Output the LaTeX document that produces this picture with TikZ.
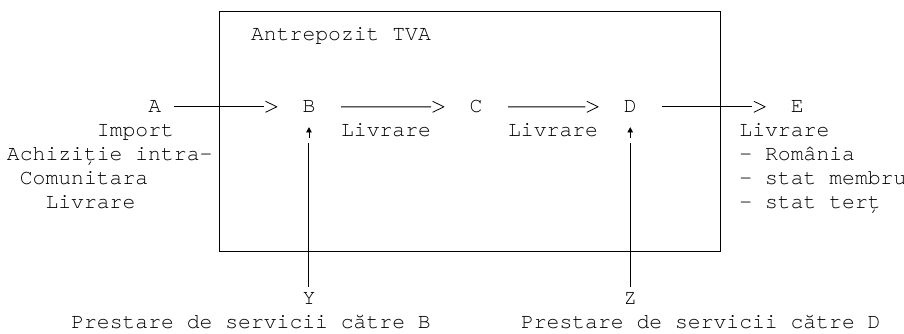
\documentclass[tikz,border=0pt]{standalone}
\usepackage{fontspec}
\setmonofont{TeX Gyre Cursor}
\usetikzlibrary{arrows.meta}

% chevron tip like the ">" glyph: the shaft stops at the back of the chevron
\pgfdeclarearrow{
  name = Chev,
  setup code = {
    \pgfarrowssettipend{0pt}
    \pgfarrowssetlineend{-12.85pt}
    \pgfarrowssetvisualbackend{-11.3pt}
    \pgfarrowssetbackend{-12.85pt}
    \pgfarrowsupperhullpoint{0pt}{0pt}
    \pgfarrowsupperhullpoint{-11.3pt}{5.5pt}
    \pgfarrowsupperhullpoint{-12.85pt}{5.5pt}
  },
  drawing code = {
    \pgfsetlinewidth{0.8pt}
    \pgfsetroundjoin
    \pgfpathmoveto{\pgfqpoint{-11.3pt}{5.5pt}}
    \pgfpathlineto{\pgfqpoint{0pt}{0pt}}
    \pgfpathlineto{\pgfqpoint{-11.3pt}{-5.5pt}}
    \pgfusepathqstroke
  }
}

% small up-arrow glyph, separated from the shaft by a gap
\pgfdeclarearrow{
  name = UpGlyph,
  setup code = {
    \pgfarrowssettipend{0pt}
    \pgfarrowssetlineend{-15pt}
    \pgfarrowssetvisualbackend{-10pt}
    \pgfarrowssetbackend{-15pt}
    \pgfarrowsupperhullpoint{0pt}{0pt}
    \pgfarrowsupperhullpoint{-4pt}{2.3pt}
    \pgfarrowsupperhullpoint{-15pt}{2.3pt}
  },
  drawing code = {
    \pgfsetlinewidth{0.8pt}
    \pgfpathmoveto{\pgfqpoint{0pt}{0pt}}
    \pgfpathlineto{\pgfqpoint{-4pt}{2.2pt}}
    \pgfpathlineto{\pgfqpoint{-4pt}{-2.2pt}}
    \pgfpathclose
    \pgfusepathqfillstroke
    \pgfpathmoveto{\pgfqpoint{-3pt}{0pt}}
    \pgfpathlineto{\pgfqpoint{-10pt}{0pt}}
    \pgfusepathqstroke
  }
}

\begin{document}
\begin{tikzpicture}[x=12.85pt, y=-24pt,
  txt/.style={font=\ttfamily\fontsize{21.4pt}{24pt}\selectfont, inner sep=0pt, outer sep=0pt, anchor=base west},
  conn/.style={draw, line width=1pt, -{Chev}, shorten <=25.7pt, shorten >=25.7pt},
  upconn/.style={draw, line width=1pt, -{UpGlyph}, shorten <=5.6pt, shorten >=15.2pt},
  frame/.style={draw, line width=1pt, inner sep=0pt, outer sep=0pt, minimum width=501.15pt, minimum height=240pt}]

\fill[white] (-0.5447,-0.4583) rectangle (69.805,13.4167);
\useasboundingbox (-0.5447,-0.4583) rectangle (69.805,13.4167);

% the bonded warehouse frame
\node[frame] (entrepot) at (36,5) {};
\node[txt] (title) at (19,1.2417) {Antrepozit TVA};

% main chain
\node[txt] (A) at (11,4.2417) {A};
\node[txt] (B) at (23,4.2417) {B};
\node[txt] (C) at (36,4.2417) {C};
\node[txt] (D) at (48,4.2417) {D};
\node[txt] (E) at (61,4.2417) {E};

\draw[conn, shorten <=12.85pt] (A.east) -- (B.west);
\draw[conn] (B.east) -- (C.west);
\draw[conn] (C.east) -- (D.west);
\draw[conn] (D.east) -- (E.west);

% labels
\node[txt] (imp)  at (7,5.2417) {Import};
\node[txt] (aic)  at (0,6.2417) {Achiziție intra-};
\node[txt] (com)  at (1,7.2417) {Comunitara};
\node[txt] (livA) at (3,8.2417) {Livrare};

\node[txt] (livBC) at (26,5.2417) {Livrare};
\node[txt] (livCD) at (39,5.2417) {Livrare};

\node[txt] (livE) at (57,5.2417) {Livrare};
\node[txt] (ro)   at (57,6.2417) {- România};
\node[txt] (sm)   at (57,7.2417) {- stat membru};
\node[txt] (st)   at (57,8.2417) {- stat terț};

% services
\node[txt] (Y) at (23,12.2417) {Y};
\node[txt] (Z) at (48,12.2417) {Z};
\node[txt] (prB) at (5,13.2417) {Prestare de servicii către B};
\node[txt] (prD) at (40,13.2417) {Prestare de servicii către D};

\draw[upconn] (Y.north) -- (B.south);
\draw[upconn] (Z.north) -- (D.south);

\end{tikzpicture}
\end{document}
